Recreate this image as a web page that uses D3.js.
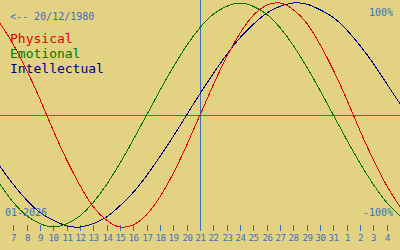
<!DOCTYPE html>
<html>
<head>
<meta charset="utf-8" />
<title>Biorhythm</title>
<style type="text/css">
body{
	margin:0;
	background:#e2d282;
}
text{
	font-family:"DejaVu Sans Mono", monospace;
}
</style>
<script src="https://d3js.org/d3.v7.min.js"></script>
</head>
<body>
<div id="chart"></div>
<script>
	// days shown (6 Jan .. 5 Feb 2026), 21 = today
	var days = [6,7,8,9,10,11,12,13,14,15,16,17,18,19,20,21,22,23,24,25,26,27,28,29,30,31,32,33,34,35,36];
	// values in percent
	var physical     = [82,63,40,14,-14,-40,-63,-82,-94,-100,-98,-89,-73,-52,-27,0,27,52,73,89,98,100,94,82,63,40,14,-14,-40,-63,-82];
	var emotional    = [-62,-78,-90,-97,-100,-97,-90,-78,-62,-43,-22,0,22,43,62,78,90,97,100,97,90,78,62,43,22,0,-22,-43,-62,-78,-90];
	var intellectual = [-46,-62,-76,-87,-94,-99,-100,-97,-91,-81,-69,-54,-37,-19,0,19,37,54,69,81,91,97,100,99,94,87,76,62,46,28,10];
	var tickDays   = [7,8,9,10,11,12,13,14,15,16,17,18,19,20,21,22,23,24,25,26,27,28,29,30,31,32,33,34,35];
	var tickLabels = ["7","8","9","10","11","12","13","14","15","16","17","18","19","20","21","22","23","24","25","26","27","28","29","30","31","1","2","3","4"];
	var today = 21;

	var width = 400;
	var height = 250;

	var SVG = d3.select("#chart")
				.append("svg")
				.attr("width", width)
				.attr("height", height);

	SVG.append("rect")
		.attr("width", width)
		.attr("height", height)
		.attr("fill", "#e2d282");

	var x = d3.scaleLinear().domain([6, 36]).range([0, 400]);
	var y = d3.scaleLinear().domain([-100, 100]).range([227, 3]);

	//zero line
	SVG.append("line")
		.attr("x1", 0).attr("x2", width)
		.attr("y1", Math.round(y(0)) + 0.5).attr("y2", Math.round(y(0)) + 0.5)
		.attr("stroke", "#3a6eb8")
		.attr("stroke-width", 1);

	//today line
	SVG.append("line")
		.attr("x1", Math.round(x(today)) + 0.5).attr("x2", Math.round(x(today)) + 0.5)
		.attr("y1", 0).attr("y2", 231)
		.attr("stroke", "#3a70c4")
		.attr("stroke-width", 1);

	//ticks
	var ticks = SVG.append("g");
	tickDays.forEach(function(d, i){
		var tx = Math.round(x(d)) + 0.5;
		ticks.append("line")
			.attr("x1", tx).attr("x2", tx)
			.attr("y1", 225).attr("y2", 231)
			.attr("stroke", "#3a70c4");
		ticks.append("text")
			.attr("x", tx)
			.attr("y", 241)
			.attr("text-anchor", "middle")
			.attr("font-size", 9)
			.attr("letter-spacing", -0.4)
			.attr("fill", "#3a70c4")
			.text(tickLabels[i]);
	});

	//curves
	var line = d3.line()
		.x(function(d){ return x(d[0]); })
		.y(function(d){ return y(d[1]); })
		.curve(d3.curveNatural);

	var series = [
		{ values: intellectual, color: "#00008c" },
		{ values: emotional, color: "#007800" },
		{ values: physical, color: "#e00000" }
	];
	series.forEach(function(s){
		SVG.append("path")
			.attr("d", line(days.map(function(d, i){ return [d, s.values[i]]; })))
			.attr("fill", "none")
			.attr("stroke", s.color)
			.attr("stroke-width", 1)
			.attr("shape-rendering", "crispEdges");
	});

	//labels
	SVG.append("text").attr("x", 10).attr("y", 20)
		.attr("font-size", 10).attr("fill", "#3a70c4")
		.text("<-- 20/12/1980");
	SVG.append("text").attr("x", 10).attr("y", 43)
		.attr("font-size", 13).attr("fill", "#e00000")
		.text("Physical");
	SVG.append("text").attr("x", 10).attr("y", 58)
		.attr("font-size", 13).attr("fill", "#007800")
		.text("Emotional");
	SVG.append("text").attr("x", 10).attr("y", 73)
		.attr("font-size", 13).attr("fill", "#00008c")
		.text("Intellectual");
	SVG.append("text").attr("x", 393).attr("y", 16)
		.attr("text-anchor", "end")
		.attr("font-size", 10).attr("fill", "#3a70c4")
		.text("100%");
	SVG.append("text").attr("x", 393).attr("y", 216)
		.attr("text-anchor", "end")
		.attr("font-size", 10).attr("fill", "#3a70c4")
		.text("-100%");
	SVG.append("text").attr("x", 5).attr("y", 216)
		.attr("font-size", 10).attr("fill", "#3a70c4")
		.text("01-2026");
</script>
</body>
</html>
